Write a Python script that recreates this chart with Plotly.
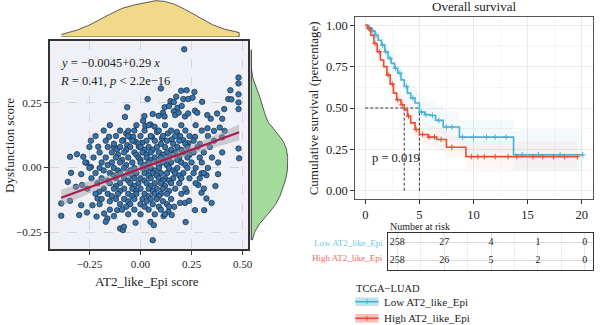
import numpy as np
import plotly.graph_objects as go

# ---------------- data: scatter ----------------
outer_points = [
    (0.214, 0.456), (0.48, 0.347), (0.48, 0.324), (0.44, 0.298), (0.48, 0.282), (0.10, 0.305),
    (0.199, 0.296), (0.226, 0.298), (0.264, 0.291), (0.035, 0.264), (0.175, 0.273), (0.21, 0.264),
    (0.234, 0.264), (0.255, 0.269), (0.147, 0.256), (0.163, 0.252), (0.302, 0.253), (0.43, 0.264),
    (0.445, 0.263), (0.48, 0.251), (0.41, 0.225), (0.48, 0.225), (-0.065, 0.232), (0.118, 0.232),
    (0.14, 0.237), (0.181, 0.23), (0.202, 0.237), (0.019, 0.198), (0.06, 0.206), (0.089, 0.199),
    (0.11, 0.211), (0.118, 0.197), (0.163, 0.217), (0.17, 0.202), (0.187, 0.211), (0.218, 0.197),
    (0.233, 0.208), (0.267, 0.219), (0.278, 0.211), (0.327, 0.202), (0.344, 0.188), (0.375, 0.208),
    (0.4, 0.188), (-0.076, 0.195), (0.013, 0.18), (0.024, 0.16), (0.049, 0.166), (0.069, 0.157),
    (-0.07, 0.131), (-0.06, 0.141), (-0.053, 0.118), (-0.243, 0.103), (-0.207, 0.08), (-0.154, 0.118),
    (-0.13, 0.08), (-0.114, 0.07), (-0.084, 0.105), (-0.065, 0.086), (-0.036, 0.118), (-0.024, 0.099),
    (-0.008, 0.08), (0.008, 0.095), (0.056, 0.118), (0.081, 0.137), (0.105, 0.112), (0.134, 0.131),
    (0.153, 0.108), (0.178, 0.137), (0.194, 0.121), (0.21, 0.105), (0.234, 0.093), (0.267, 0.118),
    (0.291, 0.09), (0.328, 0.151), (0.36, 0.141), (0.388, 0.154), (0.412, 0.141), (0.4, 0.116),
    (0.48, 0.073), (0.483, 0.035), (-0.345, 0.041), (-0.311, 0.051), (-0.28, 0.041),
    (-0.34, -0.021), (-0.29, -0.026), (-0.264, 0.018), (-0.243, 0.002), (-0.356, -0.056),
    (-0.316, -0.075), (-0.286, -0.068), (-0.388, -0.139), (-0.388, -0.187), (-0.345, -0.129),
    (-0.3, -0.184), (-0.262, -0.174), (-0.29, -0.146), (-0.235, -0.146), (-0.21, -0.12),
    (-0.202, -0.094), (-0.215, -0.19), (-0.178, -0.178), (-0.162, -0.197), (-0.17, -0.21),
    (-0.13, -0.188), (-0.114, -0.165), (-0.1, -0.236), (-0.086, -0.242), (-0.081, -0.229),
    (-0.024, -0.214), (0.049, -0.21), (0.065, -0.223), (0.06, -0.281), (0.113, -0.188),
    (0.137, -0.171), (0.153, -0.184), (0.165, -0.152), (0.221, -0.211), (0.194, -0.137),
    (0.218, -0.137), (0.238, -0.129), (0.267, -0.165), (0.312, -0.165), (0.323, -0.12),
    (0.348, -0.137), (0.367, -0.072), (0.38, -0.026), (0.283, -0.068), (0.299, -0.098),
    (0.323, -0.03), (0.299, -0.023), (0.226, -0.094),
]

dense_rows = {
    0.163: [-0.15, -0.02, 0.04, 0.12, 0.2, 0.27],
    0.142: [-0.18, -0.1, -0.03, 0.02, 0.09, 0.15, 0.22, 0.3],
    0.121: [-0.22, -0.12, -0.06, 0.0, 0.05, 0.11, 0.17, 0.24, 0.33],
    0.103: [-0.17, -0.09, -0.04, 0.03, 0.07, 0.13, 0.19, 0.26, 0.36],
    0.091: [-0.13, -0.01, 0.1, 0.16, 0.22],
    0.079: [-0.25, -0.16, -0.1, -0.05, 0.0, 0.04, 0.08, 0.12, 0.18, 0.23, 0.28, 0.34],
    0.068: [-0.07, 0.02, 0.06, 0.15, 0.2],
    0.058: [-0.2, -0.14, -0.08, -0.03, 0.01, 0.05, 0.09, 0.13, 0.17, 0.21, 0.26, 0.31, 0.4],
    0.049: [-0.11, -0.02, 0.03, 0.11, 0.16, 0.24],
    0.038: [-0.23, -0.17, -0.12, -0.06, -0.01, 0.03, 0.07, 0.1, 0.14, 0.19, 0.23, 0.29, 0.35],
    0.029: [-0.09, 0.0, 0.05, 0.12, 0.18],
    0.019: [-0.27, -0.19, -0.14, -0.1, -0.04, 0.0, 0.04, 0.08, 0.11, 0.15, 0.2, 0.25, 0.3, 0.38],
    0.009: [-0.16, -0.07, 0.02, 0.09, 0.13, 0.22],
    -0.002: [-0.25, -0.2, -0.13, -0.08, -0.03, 0.01, 0.05, 0.09, 0.14, 0.18, 0.23, 0.27, 0.33],
    -0.012: [-0.18, -0.11, -0.05, 0.03, 0.07, 0.16],
    -0.022: [-0.22, -0.15, -0.1, -0.06, -0.02, 0.02, 0.06, 0.1, 0.13, 0.17, 0.21, 0.26, 0.31],
    -0.031: [-0.13, -0.04, 0.04, 0.08, 0.19],
    -0.042: [-0.24, -0.19, -0.12, -0.08, -0.03, 0.0, 0.05, 0.09, 0.12, 0.16, 0.2, 0.24, 0.29],
    -0.051: [-0.16, -0.06, 0.02, 0.11, 0.14],
    -0.061: [-0.21, -0.15, -0.1, -0.05, -0.01, 0.03, 0.07, 0.1, 0.15, 0.19, 0.27],
    -0.072: [-0.12, -0.03, 0.05, 0.12],
    -0.082: [-0.26, -0.18, -0.13, -0.08, -0.04, 0.0, 0.04, 0.08, 0.11, 0.17, 0.22, 0.31],
    -0.091: [-0.1, -0.02, 0.06, 0.14],
    -0.102: [-0.22, -0.16, -0.11, -0.06, -0.02, 0.02, 0.07, 0.1, 0.13, 0.2],
    -0.111: [-0.14, -0.04, 0.04, 0.09],
    -0.122: [-0.19, -0.12, -0.08, -0.03, 0.01, 0.05, 0.08, 0.15],
    -0.131: [-0.15, -0.06, 0.03, 0.11],
    -0.142: [-0.2, -0.1, -0.05, 0.0, 0.06, 0.13],
    -0.152: [-0.07, 0.02, 0.09, 0.14],
    -0.163: [-0.15, -0.09, -0.03, 0.04, 0.1],
    -0.181: [-0.06, 0.0, 0.07, 0.12],
}

at2_score = [p[0] for p in outer_points] + [x for yv, xs in dense_rows.items() for x in xs]
dys_score = [p[1] for p in outer_points] + [yv for yv, xs in dense_rows.items() for x in xs]

fit_intercept = -0.0045
fit_slope = 0.29

# ---------------- data: survival ----------------
low_time = [0, 0.3, 0.6, 0.9, 1.2, 1.5, 1.8, 2.1, 2.4, 2.7, 3.0, 3.3, 3.6, 3.9, 4.2, 4.6, 5.0, 5.5, 6.0, 6.5, 7.2, 8.7, 13.7, 20.1]
low_surv = [1.0, 0.985, 0.965, 0.94, 0.91, 0.88, 0.84, 0.80, 0.77, 0.74, 0.71, 0.67, 0.63, 0.59, 0.56, 0.53, 0.475, 0.46, 0.455, 0.425, 0.385, 0.324, 0.217, 0.217]
low_lower = [1.0, 0.97, 0.94, 0.91, 0.875, 0.84, 0.795, 0.75, 0.72, 0.685, 0.65, 0.61, 0.565, 0.52, 0.49, 0.455, 0.40, 0.38, 0.37, 0.34, 0.295, 0.23, 0.12, 0.12]
low_upper = [1.0, 1.0, 0.99, 0.97, 0.945, 0.92, 0.885, 0.85, 0.825, 0.795, 0.77, 0.735, 0.70, 0.66, 0.635, 0.61, 0.56, 0.545, 0.54, 0.515, 0.48, 0.43, 0.37, 0.37]
low_censor = [0.3, 0.7, 1.0, 1.6, 1.9, 2.3, 2.8, 3.2, 3.8, 4.4, 5.2, 5.6, 6.2, 6.8, 7.5, 8.0, 9.0, 10.0, 11.2, 12.0, 13.0, 14.5, 16.0, 18.0, 20.1]

high_time = [0, 0.2, 0.5, 0.8, 1.1, 1.4, 1.7, 2.0, 2.3, 2.6, 2.9, 3.3, 3.6, 3.9, 4.2, 4.6, 5.0, 5.8, 6.6, 7.5, 9.3, 19.6]
high_surv = [1.0, 0.98, 0.94, 0.89, 0.84, 0.79, 0.75, 0.70, 0.645, 0.59, 0.55, 0.52, 0.49, 0.45, 0.41, 0.37, 0.34, 0.324, 0.31, 0.263, 0.206, 0.206]
high_lower = [1.0, 0.96, 0.91, 0.85, 0.795, 0.745, 0.70, 0.645, 0.59, 0.535, 0.49, 0.46, 0.43, 0.39, 0.35, 0.31, 0.28, 0.26, 0.245, 0.2, 0.13, 0.13]
high_upper = [1.0, 1.0, 0.97, 0.93, 0.885, 0.84, 0.80, 0.755, 0.70, 0.65, 0.61, 0.585, 0.555, 0.515, 0.475, 0.435, 0.405, 0.39, 0.38, 0.335, 0.30, 0.30]
high_censor = [0.4, 0.9, 1.3, 2.1, 2.5, 3.0, 3.4, 4.0, 4.7, 5.3, 5.9, 6.4, 7.0, 8.0, 9.8, 10.4, 11.0, 12.0, 13.2, 14.0, 15.5, 16.4, 17.4, 18.4, 19.6]

risk_times = [0, 5, 10, 15, 20]
low_risk = [258, 27, 4, 1, 0]
high_risk = [258, 26, 5, 2, 0]
p_value_text = "p = 0.019"

# ---------------- styles ----------------
FONT = "Liberation Serif"
BLUE = "#45B2D3"
RED = "#EB4B31"
W, H = 600, 325


def px(x):
    return x / W


def py(y):
    return 1 - y / H


def kde(vals, grid):
    v = np.asarray(vals)
    n = len(v)
    iqr = np.subtract(*np.percentile(v, [75, 25]))
    bw = 0.9 * min(v.std(ddof=1), iqr / 1.34) * n ** -0.2
    d = np.exp(-0.5 * ((grid[:, None] - v[None, :]) / bw) ** 2).sum(axis=1)
    return d / (n * bw * np.sqrt(2 * np.pi))


def step_at(times, surv, t):
    i = np.searchsorted(times, t, side="right") - 1
    return np.asarray(surv)[np.clip(i, 0, len(surv) - 1)]


fig = go.Figure()

# ---- scatter panel ----
xs = np.asarray(at2_score)
ys = np.asarray(dys_score)
xline = np.linspace(xs.min(), xs.max(), 60)
yline = fit_intercept + fit_slope * xline
resid = ys - (fit_intercept + fit_slope * xs)
s_err = np.sqrt((resid ** 2).sum() / (len(xs) - 2))
se = s_err * np.sqrt(1 / len(xs) + (xline - xs.mean()) ** 2 / ((xs - xs.mean()) ** 2).sum())
band = 1.97 * se

fig.add_trace(go.Scatter(x=xs, y=ys, mode="markers", xaxis="x", yaxis="y",
                         marker=dict(size=5.5, color="#3574AC", line=dict(color="#1B2838", width=0.7)),
                         showlegend=False, hoverinfo="skip"))
fig.add_trace(go.Scatter(x=np.concatenate([xline, xline[::-1]]),
                         y=np.concatenate([yline + band, (yline - band)[::-1]]),
                         fill="toself", fillcolor="rgba(160,160,165,0.45)", line=dict(width=0),
                         xaxis="x", yaxis="y", showlegend=False, hoverinfo="skip"))
fig.add_trace(go.Scatter(x=xline, y=yline, mode="lines", line=dict(color="#B3154D", width=2),
                         xaxis="x", yaxis="y", showlegend=False, hoverinfo="skip"))

# top density
gx = np.linspace(xs.min(), xs.max(), 200)
dx = kde(xs, gx)
fig.add_trace(go.Scatter(x=np.concatenate([gx, gx[::-1]]), y=np.concatenate([dx, np.zeros_like(dx)]),
                         fill="toself", fillcolor="#F2D98A", line=dict(color="#333333", width=0.8),
                         xaxis="x3", yaxis="y3", showlegend=False, hoverinfo="skip"))
# right density
gy = np.linspace(ys.min(), ys.max(), 200)
dy = kde(ys, gy)
fig.add_trace(go.Scatter(x=np.concatenate([dy, np.zeros_like(dy)]), y=np.concatenate([gy, gy[::-1]]),
                         fill="toself", fillcolor="#A4DB9C", line=dict(color="#333333", width=0.8),
                         xaxis="x5", yaxis="y5", showlegend=False, hoverinfo="skip"))

# ---- KM panel ----
for t, s, lo, up, col, fc in [
    (low_time, low_surv, low_lower, low_upper, BLUE, "rgba(69,178,211,0.06)"),
    (high_time, high_surv, high_lower, high_upper, RED, "rgba(235,75,49,0.05)"),
]:
    fig.add_trace(go.Scatter(x=t, y=lo, mode="lines", line=dict(width=0, shape="hv"),
                             xaxis="x2", yaxis="y2", showlegend=False, hoverinfo="skip"))
    fig.add_trace(go.Scatter(x=t, y=up, mode="lines", line=dict(width=0, shape="hv"), fill="tonexty",
                             fillcolor=fc, xaxis="x2", yaxis="y2", showlegend=False, hoverinfo="skip"))

# median lines
med_low = low_time[next(i for i, v in enumerate(low_surv) if v <= 0.5)]
med_high = high_time[next(i for i, v in enumerate(high_surv) if v <= 0.5)]
fig.add_trace(go.Scatter(x=[0, max(med_low, med_high)], y=[0.5, 0.5], mode="lines",
                         line=dict(color="#222", width=0.9, dash="3px,2px"),
                         xaxis="x2", yaxis="y2", showlegend=False, hoverinfo="skip"))
for m in (med_low, med_high):
    fig.add_trace(go.Scatter(x=[m, m], y=[0, 0.5], mode="lines",
                             line=dict(color="#222", width=0.9, dash="3px,2px"),
                             xaxis="x2", yaxis="y2", showlegend=False, hoverinfo="skip"))

for t, s, c, col in [(low_time, low_surv, low_censor, BLUE), (high_time, high_surv, high_censor, RED)]:
    fig.add_trace(go.Scatter(x=t, y=s, mode="lines", line=dict(color=col, width=1.6, shape="hv"),
                             xaxis="x2", yaxis="y2", showlegend=False, hoverinfo="skip"))
    fig.add_trace(go.Scatter(x=c, y=step_at(t, s, c), mode="markers",
                             marker=dict(symbol="cross-thin", size=4, line=dict(color=col, width=1)),
                             xaxis="x2", yaxis="y2", showlegend=False, hoverinfo="skip"))

# risk table
fig.add_trace(go.Scatter(x=risk_times, y=[2] * 5, mode="text", text=[str(v) for v in low_risk],
                         textfont=dict(family=FONT, size=10, color="#222"),
                         xaxis="x4", yaxis="y4", showlegend=False, hoverinfo="skip"))
fig.add_trace(go.Scatter(x=risk_times, y=[1] * 5, mode="text", text=[str(v) for v in high_risk],
                         textfont=dict(family=FONT, size=10, color="#222"),
                         xaxis="x4", yaxis="y4", showlegend=False, hoverinfo="skip"))

grid_dash = dict(showgrid=True, gridcolor="#D3D6DD", griddash="dash", gridwidth=0.8)
box = dict(showline=True, mirror=True, linecolor="#333333", linewidth=1.6, zeroline=False)
tickfont_s = dict(family=FONT, size=11, color="#222")
tickfont_k = dict(family=FONT, size=12.5, color="#222")

fig.update_layout(
    width=W, height=H, margin=dict(l=0, r=0, t=0, b=0),
    paper_bgcolor="white", plot_bgcolor="white", font=dict(family=FONT),
    xaxis=dict(domain=[px(50), px(250)], range=[-0.445, 0.526], anchor="y",
               tickvals=[-0.25, 0, 0.25, 0.5], ticktext=["−0.25", "0.00", "0.25", "0.50"],
               ticks="outside", ticklen=4, tickcolor="#333", tickfont=tickfont_s, **grid_dash, **box),
    yaxis=dict(domain=[py(249), py(41)], range=[-0.315, 0.488], anchor="x",
               tickvals=[-0.25, 0, 0.25], ticktext=["−0.25", "0.00", "0.25"],
               ticks="outside", ticklen=4, tickcolor="#333", tickfont=tickfont_s, **grid_dash, **box),
    xaxis3=dict(domain=[px(50), px(250)], range=[-0.445, 0.526], anchor="y3", visible=False),
    yaxis3=dict(domain=[py(37), 1.0], range=[0, dx.max() * 1.02], anchor="x3", visible=False),
    xaxis5=dict(domain=[px(253), px(291)], range=[0, dy.max() * 1.02], anchor="y5", visible=False),
    yaxis5=dict(domain=[py(249), py(41)], range=[-0.315, 0.488], anchor="x5", visible=False),
    xaxis2=dict(domain=[px(358.3), px(598.3)], range=[-0.92, 21.07], anchor="y2",
                tickvals=[0, 5, 10, 15, 20], ticks="outside", ticklen=4, tickcolor="#333",
                tickfont=tickfont_k, showgrid=True, gridcolor="#EBEBEB", gridwidth=0.8,
                minor=dict(showgrid=True, gridcolor="#F5F5F5", dtick=2.5),
                showline=True, mirror=True, linecolor="#555", linewidth=1, zeroline=False),
    yaxis2=dict(domain=[py(199.3), py(16.7)], range=[-0.052, 1.052], anchor="x2",
                tickvals=[0, 0.25, 0.5, 0.75, 1.0], ticktext=["0.00", "0.25", "0.50", "0.75", "1.00"],
                ticks="outside", ticklen=4, tickcolor="#333", tickfont=tickfont_k,
                showgrid=True, gridcolor="#EBEBEB", gridwidth=0.8,
                minor=dict(showgrid=True, gridcolor="#F5F5F5", dtick=0.125),
                showline=True, mirror=True, linecolor="#555", linewidth=1, zeroline=False),
    xaxis4=dict(domain=[px(391.7), px(598.3)], range=[-0.95, 20.9], anchor="y4",
                showticklabels=False, ticks="", showgrid=True, gridcolor="#E6E6E6", dtick=5,
                minor=dict(showgrid=True, gridcolor="#EDEDED", dtick=2.5),
                showline=True, mirror=True, linecolor="#333", linewidth=1, zeroline=False),
    yaxis4=dict(domain=[py(270), py(233.3)], range=[0.45, 2.55], anchor="x4",
                showticklabels=False, ticks="", tickvals=[1, 2], showgrid=True, gridcolor="#DADADA",
                showline=True, mirror=True, linecolor="#333", linewidth=1, zeroline=False),
)

# grey-blue panel background for scatter only
fig.add_shape(type="rect", xref="x domain", yref="y domain", x0=0, x1=1, y0=0, y1=1,
              fillcolor="#EFF1F6", line=dict(width=0), layer="below")
# right density baseline
fig.add_shape(type="line", xref="paper", yref="paper", x0=px(253.3), x1=px(253.3),
              y0=py(240), y1=py(50), line=dict(color="#333", width=0.8))

ann = []
ann.append(dict(x=px(58), y=py(63), xref="paper", yref="paper", xanchor="left", yanchor="middle",
                text="<i>y</i> = −0.0045+0.29 <i>x</i>", showarrow=False,
                font=dict(family=FONT, size=12.5, color="#222")))
ann.append(dict(x=px(58), y=py(81), xref="paper", yref="paper", xanchor="left", yanchor="middle",
                text="<i>R</i> = 0.41, <i>p</i> &lt; 2.2e−16", showarrow=False,
                font=dict(family=FONT, size=12.5, color="#222")))
ann.append(dict(x=px(148), y=py(281), xref="paper", yref="paper", xanchor="center", yanchor="middle",
                text="AT2_like_Epi score", showarrow=False, font=dict(family=FONT, size=13, color="#222")))
ann.append(dict(x=px(9), y=py(145), xref="paper", yref="paper", xanchor="center", yanchor="middle",
                text="Dysfunction score", textangle=-90, showarrow=False,
                font=dict(family=FONT, size=13, color="#222")))
ann.append(dict(x=px(478), y=py(7), xref="paper", yref="paper", xanchor="center", yanchor="middle",
                text="Overall survival", showarrow=False, font=dict(family=FONT, size=13, color="#222")))
ann.append(dict(x=px(316), y=py(108), xref="paper", yref="paper", xanchor="center", yanchor="middle",
                text="Cumulative survival (percentage)", textangle=-90, showarrow=False,
                font=dict(family=FONT, size=13, color="#222")))
ann.append(dict(x=0.4, y=0.2, xref="x2", yref="y2", xanchor="left", yanchor="middle",
                text=p_value_text, showarrow=False, font=dict(family=FONT, size=12.5, color="#222")))
ann.append(dict(x=px(391.5), y=py(226), xref="paper", yref="paper", xanchor="left", yanchor="middle",
                text="Number at risk", showarrow=False, font=dict(family=FONT, size=10, color="#222")))
ann.append(dict(x=px(388), y=py(242.7), xref="paper", yref="paper", xanchor="right", yanchor="middle",
                text="Low AT2_like_Epi", showarrow=False, font=dict(family=FONT, size=9, color="#6EC6DE")))
ann.append(dict(x=px(388), y=py(258.3), xref="paper", yref="paper", xanchor="right", yanchor="middle",
                text="High AT2_like_Epi", showarrow=False, font=dict(family=FONT, size=9, color="#F06A56")))
ann.append(dict(x=px(357), y=py(288.5), xref="paper", yref="paper", xanchor="left", yanchor="middle",
                text="TCGA−LUAD", showarrow=False, font=dict(family=FONT, size=10.5, color="#222")))
for yy, label, col, fc in [(301.7, "Low AT2_like_Epi", BLUE, "rgba(69,178,211,0.35)"),
                           (318.3, "High AT2_like_Epi", RED, "rgba(235,75,49,0.35)")]:
    fig.add_shape(type="rect", xref="paper", yref="paper", x0=px(358.3), x1=px(381.7),
                  y0=py(yy + 4.3), y1=py(yy - 4.3), fillcolor=fc, line=dict(width=0))
    fig.add_shape(type="line", xref="paper", yref="paper", x0=px(358.3), x1=px(381.7),
                  y0=py(yy), y1=py(yy), line=dict(color=col, width=1.6))
    fig.add_shape(type="line", xref="paper", yref="paper", x0=px(370), x1=px(370),
                  y0=py(yy + 2.5), y1=py(yy - 2.5), line=dict(color=col, width=1))
    ann.append(dict(x=px(385.5), y=py(yy), xref="paper", yref="paper", xanchor="left", yanchor="middle",
                    text=label, showarrow=False, font=dict(family=FONT, size=11, color="#222")))
fig.update_layout(annotations=ann)

fig.write_html("out.html")
